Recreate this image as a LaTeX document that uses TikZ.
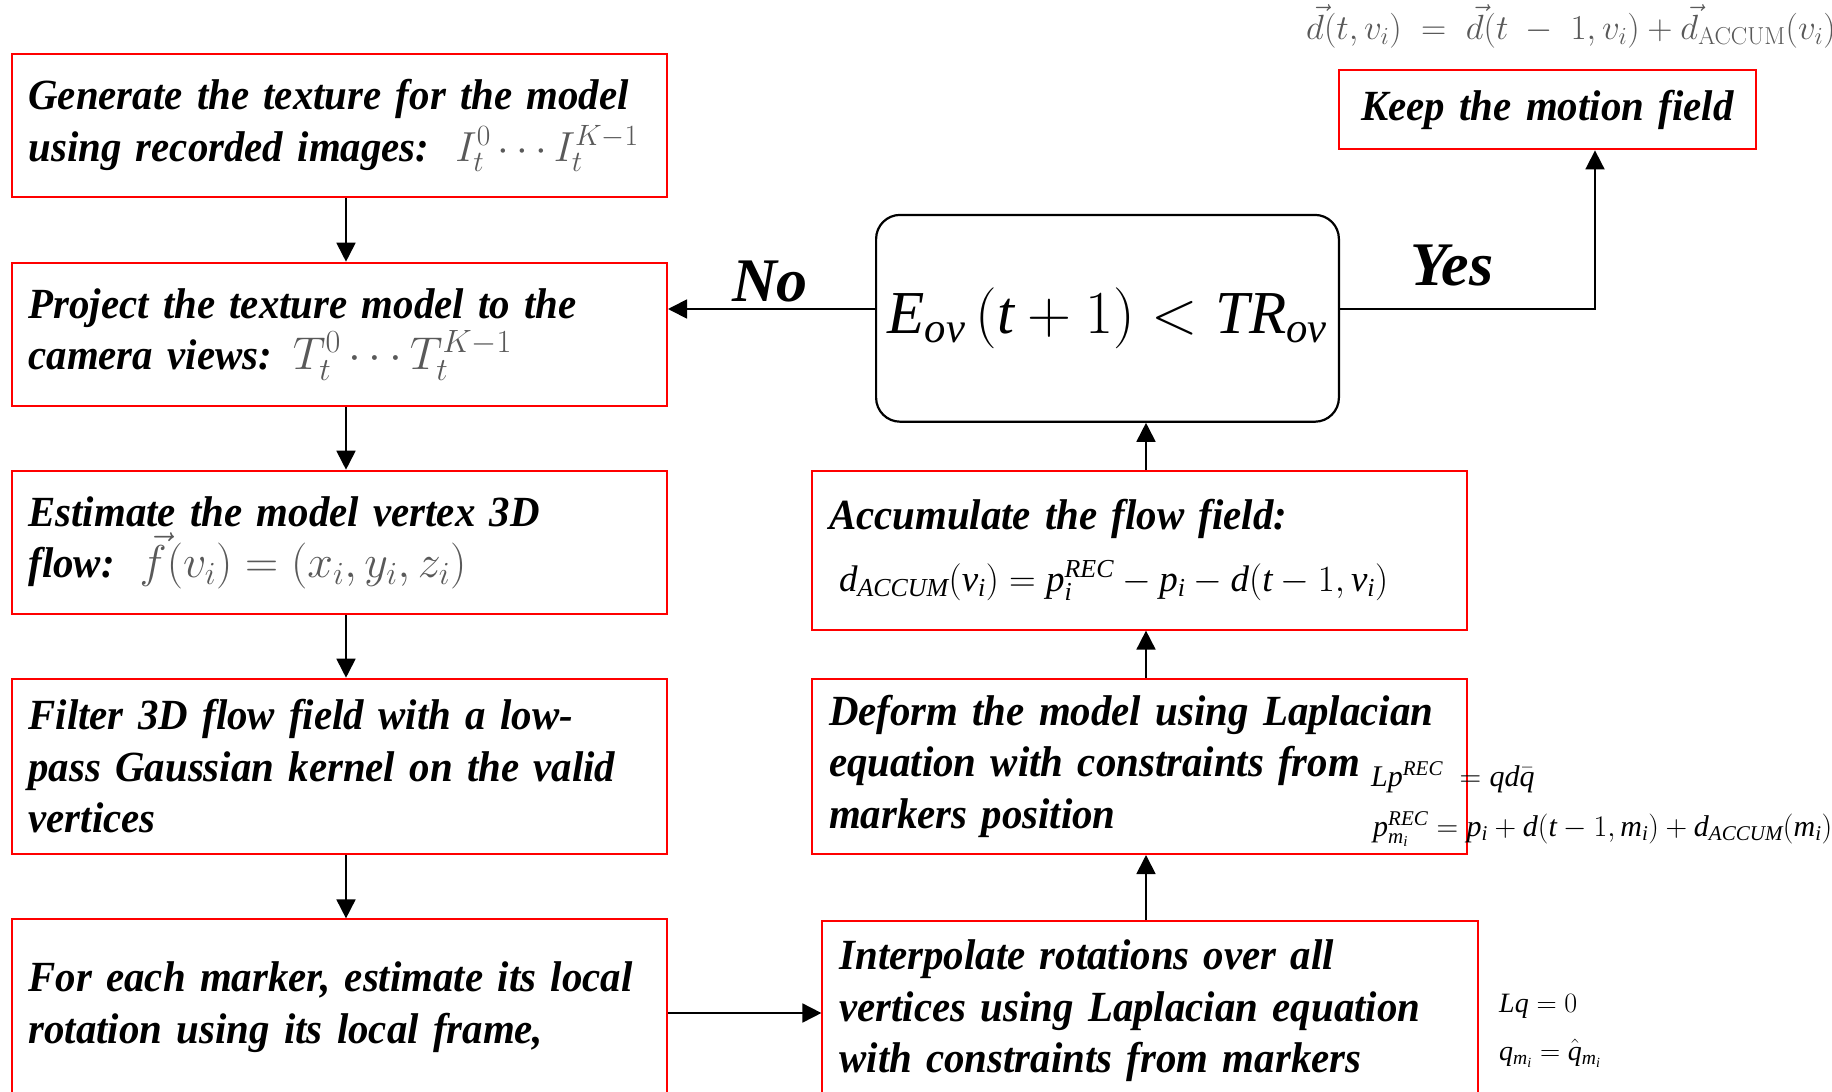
\RequirePackage{fix-cm}
\documentclass[tikz,border=0pt]{standalone}
\usepackage[no-math]{fontspec}
\setmainfont{Liberation Serif}
\newfontfamily\boxfam{Liberation Serif}[FakeStretch=0.95]
\newfontfamily\tnrfont[NFSSFamily=tnr]{Liberation Serif}
\DeclareMathAlphabet{\mathtnr}{TU}{tnr}{m}{it}
\usetikzlibrary{arrows.meta}

\newcommand\boxfont{\fontsize{43}{51.4}\selectfont\boxfam\bfseries\itshape\hyphenpenalty=10000\relax}
\newcommand\graymath[2]{{\color{black!65}\fontsize{#1}{51.4}\selectfont$#2$}}

\begin{document}
\begin{tikzpicture}[x=1pt, y=-1pt,
    stepbox/.style 2 args={draw=red, line width=2pt, anchor=north west, align=left,
      inner xsep=17pt, inner ysep=0pt, font=\boxfont,
      minimum width=#1, minimum height=#2, text width=#1-34pt},
    decision/.style={draw, line width=2.2pt, rounded corners=24pt, anchor=north west,
      minimum width=462.8pt, minimum height=206.8pt, inner sep=0pt},
    flow/.style={-{Triangle[length=19pt,width=19pt]}, line width=1.8pt},
    lbl/.style={font=\fontsize{62}{70}\selectfont\bfseries\itshape, inner sep=0pt},
    eqtimes/.style={font=\fontsize{30}{36}\selectfont, inner sep=0pt, anchor=base west}]
  \useasboundingbox (0,0) rectangle (1832,1092);
  \clip (0,0) rectangle (1832,1092);

  % left column
  \node[stepbox={655.5}{143.7}] (gen) at (10.5,52.6)
    {Generate the texture for the model\\ using recorded images:\hspace{26pt}\graymath{42}{I_t^0\cdots I_t^{K-1}}};
  \node[stepbox={655.5}{143.7}] (proj) at (10.5,261.7)
    {Project the texture model to the\\ camera views:\hspace{21pt}\graymath{46}{T_t^0\cdots T_t^{K-1}}};
  \node[stepbox={655.5}{143.7}] (est) at (10.5,469.7)
    {Estimate the model vertex 3D\\ flow:\hspace{25pt}\graymath{46}{\vec f(v_i)=(x_i,y_i,z_i)}};
  \node[stepbox={655.5}{175.3}] (filt) at (10.5,677.7)
    {Filter 3D flow field with a low-\\ pass Gaussian kernel on the valid\\ vertices};
  \node[stepbox={655.5}{218}] (rot) at (10.5,918.4)
    {For each marker, estimate its local\\ rotation using its local frame,\\ \mbox{}};

  % right column
  \node[stepbox={655.5}{222}] (interp) at (821.4,920)
    {Interpolate rotations over all\\ vertices using Laplacian equation\\ with constraints from markers\\ \mbox{}};
  \node[stepbox={655}{175.3}] (deform) at (811,677.7)
    {Deform the model using Laplacian\\ equation with constraints from\\ markers position};
  \node[stepbox={655}{158.9}] (accum) at (811,469.7)
    {Accumulate the flow field:\\[10pt]\hspace*{10pt}{\fontsize{37}{44}\mdseries\upshape
      $\mathtnr{d_{ACCUM}(v_i)=p_i^{REC}-p_i-d(t}-1,\mathtnr{v_i)}$}};
  \node[decision] (cond) at (875,213.8)
    {\fontsize{61}{70}\selectfont$\mathtnr{E_{ov}}\,(\mathtnr{t}+1)<\mathtnr{TR_{ov}}$};
  \node[stepbox={417.2}{79.4}, align=center] (keep) at (1337.8,69) {Keep the motion field};

  % labels and formulas
  \node[lbl, anchor=base] (no) at (770,301) {No};
  \node[lbl, anchor=base] (yes) at (1452,285) {Yes};
  \node[inner sep=0pt, anchor=base west, text=black!65, font=\fontsize{35}{40}\selectfont] (deq) at (1306,39)
    {$\vec d(t,v_i)\;=\;\vec d(t\;-\;1,v_i)+\vec d_{\mathrm{ACCUM}}(v_i)$};
  \node[eqtimes] (lpeq) at (1371,786) {$\mathtnr{Lp^{REC}}\;=\mathtnr{qd}\bar{\mathtnr{q}}$};
  \node[eqtimes] (pmeq) at (1373,836)
    {$\mathtnr{p_{m_i}^{REC}}=\mathtnr{p_i+d(t}-1,\mathtnr{m_i)+d_{ACCUM}(m_i)}$};
  \node[eqtimes, font=\fontsize{28}{34}\selectfont] (lqeq) at (1499,1012) {$\mathtnr{Lq}=0$};
  \node[eqtimes, font=\fontsize{28}{34}\selectfont] (qmeq) at (1499,1060) {$\mathtnr{q_{m_i}}=\hat{\mathtnr{q}}_{\mathtnr{m_i}}$};

  \coordinate (ax) at (346,0);
  \coordinate (bx) at (1146,0);
  \coordinate (kx) at (1595,0);
  \coordinate (cy) at (0,309);
  \coordinate (ry) at (0,1013);

  \foreach \a/\b in {gen/proj, proj/est, est/filt, filt/rot}
    \draw[flow] (\a.south -| ax) -- (\b.north -| ax);
  \foreach \a/\b in {interp/deform, deform/accum, accum/cond}
    \draw[flow] (\a.north -| bx) -- (\b.south -| bx);
  \draw[flow] (rot.east |- ry) -- (interp.west |- ry);
  \draw[flow] (cond.west |- cy) -- (proj.east |- cy);
  \draw[flow] (cond.east |- cy) -| (keep.south -| kx);
\end{tikzpicture}
\end{document}
